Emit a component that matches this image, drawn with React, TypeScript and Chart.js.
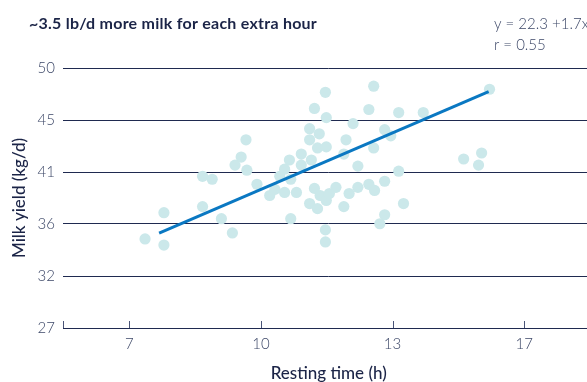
import React, { useEffect, useRef } from 'react';
import { Chart, registerables } from 'chart.js';

Chart.register(...registerables);

const chartTitle = '~3.5 lb/d more milk for each extra hour';
const fitEquation = 'y = 22.3 +1.7x';
const fitR = 'r = 0.55';
const xAxisTitle = 'Resting time (h)';
const yAxisTitle = 'Milk yield (kg/d)';

const restingHours = [
  7.36, 7.79, 7.79, 8.67, 8.67, 8.89, 9.10, 9.35, 9.41, 9.55,
  9.66, 9.68, 9.91, 10.20, 10.32, 10.43, 10.54, 10.65, 10.68, 10.54,
  10.81, 10.68, 10.92, 10.92, 11.15, 11.11, 11.11, 11.22, 11.33, 11.29,
  11.49, 11.49, 11.47, 11.22, 11.35, 11.49, 11.56, 11.71, 11.11, 11.29,
  11.89, 11.47, 11.47, 11.94, 11.89, 12.10, 12.21, 12.01, 12.21, 12.46,
  12.59, 12.82, 13.25, 12.82, 12.71, 12.46, 12.57, 12.57, 12.82, 12.96,
  13.14, 13.14, 13.70, 14.62, 15.03, 14.96, 15.21,
];
const milkYield = [
  34.88, 37.20, 34.34, 37.74, 40.42, 40.16, 36.67, 35.41, 41.41, 42.12,
  43.65, 40.96, 39.71, 38.72, 39.26, 40.42, 41.05, 41.86, 40.16, 38.99,
  38.99, 36.67, 42.39, 41.41, 41.86, 44.63, 43.65, 46.42, 44.18, 42.93,
  43.02, 45.61, 47.85, 39.35, 38.72, 38.28, 38.90, 39.44, 38.01, 37.56,
  37.74, 35.68, 34.61, 43.65, 42.39, 45.08, 41.32, 38.90, 39.44, 39.71,
  39.17, 39.98, 38.01, 37.02, 36.22, 46.33, 48.39, 42.93, 44.54, 44.00,
  46.06, 40.87, 46.06, 41.95, 42.48, 41.41, 48.12,
];

const trendHours = [7.68, 15.19];
const trendYield = [35.4, 47.9];

const xTickValues = [7, 10, 13, 16];
const xTickLabels = ['7', '10', '13', '17'];
const yTickValues = [27, 31.6, 36.2, 40.8, 45.4, 50];
const yTickLabels = ['27', '32', '36', '41', '45', '50'];
const xMin = 5.49;
const xMax = 17.6;
const yMin = 27;
const yMax = 50;

const NAVY = '#1f2a50';
const TEXT_DARK = '#1b2447';
const TEXT_SOFT = '#3d4868';
const POINT_COLOR = '#cbe8ea';
const LINE_COLOR = '#0a78c2';
const FONT = 'Lato, "Noto Sans", sans-serif';

const overlayPlugin = {
  id: 'overlayText',
  afterDraw(chart: any) {
    const { ctx, chartArea, scales } = chart;
    const xs = scales.x;
    ctx.save();
    ctx.strokeStyle = '#4a5577';
    ctx.lineWidth = 1;
    [xMin, ...xTickValues].forEach((v) => {
      const px = Math.round(xs.getPixelForValue(v)) + 0.5;
      ctx.beginPath();
      ctx.moveTo(px, chartArea.bottom - 7);
      ctx.lineTo(px, chartArea.bottom);
      ctx.stroke();
    });
    ctx.textAlign = 'left';
    ctx.textBaseline = 'alphabetic';
    ctx.fillStyle = TEXT_DARK;
    ctx.font = `bold 16px ${FONT}`;
    try { (ctx as any).letterSpacing = '0.25px'; } catch (e) {}
    ctx.fillText(chartTitle, 29, 28.5);
    try { (ctx as any).letterSpacing = '0px'; } catch (e) {}
    ctx.fillStyle = TEXT_SOFT;
    ctx.font = `300 15px ${FONT}`;
    ctx.fillText(fitEquation, 494, 29);
    ctx.fillText(fitR, 494, 50);
    ctx.restore();
  },
};

export default function App() {
  const canvasRef = useRef<HTMLCanvasElement | null>(null);

  useEffect(() => {
    const canvas = canvasRef.current;
    if (!canvas) return;
    const points = restingHours.map((x, i) => ({ x, y: milkYield[i] }));
    const trend = trendHours.map((x, i) => ({ x, y: trendYield[i] }));
    const chart = new Chart(canvas, {
      type: 'scatter',
      data: {
        datasets: [
          {
            type: 'line',
            label: 'Trend',
            data: trend,
            borderColor: LINE_COLOR,
            borderWidth: 3,
            pointRadius: 0,
            fill: false,
            order: 0,
          } as any,
          {
            type: 'scatter',
            label: 'Cows',
            data: points,
            backgroundColor: POINT_COLOR,
            borderWidth: 0,
            pointRadius: 5.6,
            order: 1,
          },
        ],
      },
      options: {
        responsive: false,
        devicePixelRatio: 1,
        animation: false,
        events: [],
        layout: { padding: { top: 68, left: 0, right: 0, bottom: 0 } },
        plugins: {
          legend: { display: false },
          tooltip: { enabled: false },
          title: { display: false },
        },
        scales: {
          x: {
            type: 'linear',
            min: xMin,
            max: xMax,
            afterBuildTicks: (scale: any) => {
              scale.ticks = xTickValues.map((value) => ({ value }));
            },
            afterFit: (scale: any) => {
              scale.height = 54;
            },
            grid: { display: false, drawTicks: false },
            border: { display: true, color: NAVY, width: 1 },
            ticks: {
              padding: 7,
              color: TEXT_SOFT,
              font: { family: FONT, size: 15, weight: '300' as any },
              maxRotation: 0,
              autoSkip: false,
              callback: (_v: any, i: number) => xTickLabels[i],
            },
            title: {
              display: true,
              text: xAxisTitle,
              color: TEXT_DARK,
              font: { family: FONT, size: 17, weight: '500' as any },
              padding: { top: 0, bottom: -2 },
            },
          },
          y: {
            type: 'linear',
            min: yMin,
            max: yMax,
            afterBuildTicks: (scale: any) => {
              scale.ticks = yTickValues.map((value) => ({ value }));
            },
            afterFit: (scale: any) => {
              scale.width = 63;
            },
            grid: { color: NAVY, lineWidth: 1, drawTicks: false },
            border: { display: false },
            ticks: {
              padding: 8,
              color: TEXT_SOFT,
              font: { family: FONT, size: 15, weight: '300' as any },
              autoSkip: false,
              callback: (_v: any, i: number) => yTickLabels[i],
            },
            title: {
              display: true,
              text: yAxisTitle,
              color: TEXT_DARK,
              font: { family: FONT, size: 17, weight: '500' as any },
              padding: { top: 9, bottom: 0 },
            },
          },
        },
      },
      plugins: [overlayPlugin],
    });
    return () => chart.destroy();
  }, []);

  return (
    <div
      style={{
        position: 'fixed',
        left: 0,
        top: 0,
        width: 587,
        height: 382,
        overflow: 'hidden',
        background: '#ffffff',
      }}
    >
      <canvas ref={canvasRef} width={600} height={382} style={{ display: 'block' }} />
    </div>
  );
}
